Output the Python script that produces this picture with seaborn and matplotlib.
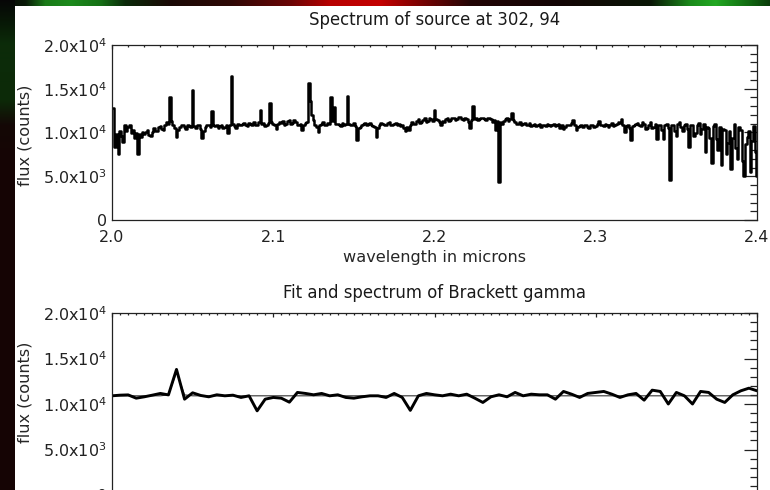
import numpy as np
import pandas as pd
import matplotlib
matplotlib.use("Agg")
import matplotlib.pyplot as plt
import seaborn as sns
from matplotlib.ticker import MultipleLocator, FuncFormatter
from matplotlib.patches import Rectangle

# ---------------- data ----------------
# full K-band spectrum, 0.001 micron bins from 2.000 to 2.400
flux = [
    12800, 12800, 8300, 9800, 7600, 10200, 9600, 8900, 10900, 10200,
    10600, 10900, 9900, 10300, 9400, 9900, 7600, 9800, 9500, 10100,
    9800, 10100, 10300, 9700, 9600, 10000, 10500, 10200, 10200, 10600,
    10700, 10400, 10300, 10800, 11200, 11000, 14100, 11300, 10800, 10500,
    9500, 10300, 10600, 10900, 10900, 10600, 10400, 10800, 10700, 10600,
    14800, 10700, 10500, 10900, 10800, 10400, 9400, 10200, 10600, 10800,
    10900, 10600, 12500, 10800, 10700, 10900, 10500, 10700, 10900, 10500,
    10600, 10900, 9900, 10800, 16400, 11000, 10700, 10500, 11000, 10800,
    10800, 11000, 11100, 10800, 10700, 11100, 11000, 10900, 11200, 10800,
    10900, 11200, 12600, 11000, 11100, 10700, 10800, 11100, 13400, 11200,
    11000, 10800, 10400, 11000, 11200, 11100, 11300, 10900, 11000, 11300,
    11400, 11000, 11100, 11400, 11200, 10900, 10900, 11000, 10300, 10900,
    11100, 11200, 15600, 13600, 12000, 11400, 10900, 10600, 10000, 10800,
    11000, 11200, 10800, 10900, 11100, 11000, 14000, 11300, 12900, 11000,
    11000, 10800, 10700, 11100, 10900, 11000, 14200, 11000, 10800, 10900,
    11100, 10700, 9100, 10500, 10600, 10900, 11000, 11100, 10800, 11000,
    11100, 10900, 10700, 10600, 9500, 10500, 10800, 11100, 11000, 10800,
    10900, 11100, 11200, 10900, 10800, 11000, 11100, 10800, 11000, 10700,
    10800, 10500, 10200, 10600, 10300, 10800, 11200, 11000, 11000, 11300,
    11500, 11100, 11200, 11400, 11600, 11200, 11300, 11700, 11500, 11300,
    12600, 11500, 11400, 11200, 10800, 11300, 11200, 11500, 11600, 11300,
    11400, 11600, 11700, 11400, 11500, 11800, 11800, 11500, 11400, 11700,
    11500, 11200, 10500, 11400, 13000, 11500, 11600, 11400, 11500, 11700,
    11700, 11500, 11400, 11700, 11600, 11500, 11200, 11400, 10300, 11300,
    4400, 11200, 11000, 11300, 11500, 11600, 11300, 11500, 12200, 11400,
    11200, 11000, 11000, 11200, 10800, 11000, 11100, 10800, 10900, 11100,
    10700, 10900, 11000, 10700, 10800, 11000, 10600, 10800, 10900, 10700,
    11000, 10800, 10700, 10900, 11000, 10700, 10800, 11000, 10500, 10800,
    10400, 10600, 10800, 10900, 10900, 11100, 11400, 10800, 10300, 10600,
    10700, 10900, 10600, 10800, 10800, 10600, 10500, 10800, 10900, 10600,
    10700, 11000, 11300, 10900, 10800, 10700, 11000, 10800, 10600, 10900,
    11100, 10700, 10800, 11000, 11200, 11100, 11500, 10800, 10100, 10700,
    10800, 10500, 9100, 10700, 10900, 11000, 11100, 10800, 10700, 11200,
    11000, 10400, 10500, 10900, 11200, 10500, 10600, 11000, 9300, 10800,
    10800, 10300, 9200, 10900, 11000, 10500, 4600, 10800, 10900, 10200,
    9600, 11000, 11200, 10600, 10200, 10900, 11000, 10400, 8300, 10800,
    10900, 9600, 9900, 10800, 11100, 9800, 10400, 11000, 7800, 10600,
    10500, 9400, 6500, 10700, 11000, 9200, 8000, 10600, 6300, 10400,
    10300, 7600, 8800, 10200, 5800, 9400, 11000, 8200, 7000, 10600,
    10300, 6800, 5000, 8700, 9500, 10200, 5500, 9000, 10700, 7800,
    5000,
]
wavelength = np.linspace(2.0, 2.4, len(flux))

# Brackett gamma region: spectrum and fit
br_flux = [
    10900, 10970, 11000, 10640, 10790, 10970, 11160, 11000, 13800, 10530,
    11230, 10940, 10790, 11010, 10900, 10970, 10720, 10900, 9250, 10530,
    10720, 10640, 10200, 11270, 11160, 11010, 11160, 10900, 11010, 10720,
    10640, 10790, 10900, 10900, 10720, 11160, 10720, 9300, 10900, 11160,
    11010, 10900, 11080, 10900, 11080, 10640, 10170, 10790, 11010, 10790,
    11270, 10900, 11080, 11010, 11010, 10530, 11380, 11080, 10720, 11160,
    11270, 11380, 11080, 10720, 11010, 11160, 10420, 11520, 11380, 10000,
    11270, 10900, 10000, 11380, 11270, 10530, 10170, 11010, 11450, 11740, 11450,
]
br_fit = [10900] * 7 + [11000, 13500, 11000] + [10900] * 71
br_wl = np.linspace(2.15, 2.19, len(br_flux))

top_title = "Spectrum of source at 302, 94"
bot_title = "Fit and spectrum of Brackett gamma"
xlab = "wavelength in microns"
ylab = "flux (counts)"
ytick_vals = [0, 5000, 10000, 15000, 20000]
ytick_text = ["0", r"5.0x10$^{3}$", r"1.0x10$^{4}$", r"1.5x10$^{4}$", r"2.0x10$^{4}$"]

df_top = pd.DataFrame({"wl": wavelength, "flux": flux})
df_bot = pd.DataFrame({"wl": br_wl, "flux": br_flux, "fit": br_fit})

# ---------------- style ----------------
sns.set_theme(style="white")
plt.rcParams["font.family"] = ["DejaVu Sans"]
plt.rcParams["axes.linewidth"] = 0.9
plt.rcParams["axes.edgecolor"] = "#222222"
plt.rcParams["text.color"] = "#1a1a1a"
plt.rcParams["xtick.color"] = "#222222"
plt.rcParams["ytick.color"] = "#222222"
FS_TICK = 11.5
FS_LAB = 11.6
FS_TITLE = 11.9

W, H = 770, 490
fig = plt.figure(figsize=(W / 100, H / 100), dpi=100)
fig.patch.set_facecolor("#0e0404")

# decorative background (screenshot surroundings)
bg = fig.add_axes([0, 0, 1, 1], zorder=-10)
xs = np.arange(W)
stops_x = [0, 25, 45, 70, 100, 125, 170, 230, 290, 330, 380, 420, 470, 560, 650, 690, 715, 745, 770]
stops_c = ["#060606", "#0a1a08", "#1a7a18", "#1c8a1c", "#157015", "#0b2a0a", "#1a0805", "#2e0806",
           "#6a0505", "#b80000", "#c40000", "#7a0202", "#220505", "#120404", "#0a1606",
           "#1a8a1a", "#22a822", "#127012", "#0a3a0a"]
rgb = np.array([matplotlib.colors.to_rgb(c) for c in stops_c])
row = np.stack([np.interp(xs, stops_x, rgb[:, k]) for k in range(3)], axis=-1)
img = np.repeat(row[None, :, :], 8, axis=0)
ys = np.arange(H)
stops_y = [0, 25, 45, 100, 125, 160, 490]
stops_yc = ["#060606", "#081a06", "#0c2c0a", "#0c2a08", "#140806", "#160505", "#150404"]
rgb_y = np.array([matplotlib.colors.to_rgb(c) for c in stops_yc])
col = np.stack([np.interp(ys, stops_y, rgb_y[:, k]) for k in range(3)], axis=-1)
bg.imshow(img, extent=[0, W, 8, 0], aspect="auto", interpolation="bilinear")
bg.imshow(col[:, None, :].repeat(15, axis=1), extent=[0, 15, H, 0], aspect="auto",
          interpolation="bilinear")
bg.set_xlim(0, W)
bg.set_ylim(H, 0)
bg.axis("off")
fig.add_artist(Rectangle((15 / W, 0), 1, (H - 6) / H, transform=fig.transFigure,
                         facecolor="white", edgecolor="none", zorder=-5))

left = 112 / W
width = 645 / W
ax1 = fig.add_axes([left, (H - 220) / H, width, 175 / H])
ax2 = fig.add_axes([left, (H - 495) / H, width, 182 / H])

sns.lineplot(data=df_top, x="wl", y="flux", ax=ax1, color="black", linewidth=1.8,
             drawstyle="steps-mid", estimator=None, sort=False)
sns.lineplot(data=df_bot, x="wl", y="fit", ax=ax2, color="#333333", linewidth=0.8,
             estimator=None, sort=False)
sns.lineplot(data=df_bot, x="wl", y="flux", ax=ax2, color="black", linewidth=2.1,
             estimator=None, sort=False)


def yfmt(v, pos):
    for tv, tt in zip(ytick_vals, ytick_text):
        if abs(v - tv) < 1:
            return tt
    return ""


for ax, xlo, xhi, xmaj, xmin_ in [(ax1, 2.0, 2.4, 0.1, 0.01),
                                  (ax2, 2.15, 2.19, 0.01, 0.0005)]:
    ax.set_facecolor("white")
    ax.set_xlim(xlo, xhi)
    ax.set_ylim(0, 20000)
    ax.xaxis.set_major_locator(MultipleLocator(xmaj))
    ax.xaxis.set_minor_locator(MultipleLocator(xmin_))
    ax.xaxis.set_major_formatter(FuncFormatter(lambda v, p: f"{v:.1f}"))
    ax.yaxis.set_major_locator(MultipleLocator(5000))
    ax.yaxis.set_minor_locator(MultipleLocator(1000))
    ax.yaxis.set_major_formatter(FuncFormatter(yfmt))
    ax.tick_params(which="both", direction="in", top=True, right=True,
                   labelsize=FS_TICK, width=0.9)
    ax.tick_params(axis="y", which="major", length=9.4, pad=3.6)
    ax.tick_params(axis="y", which="minor", length=4.7)
    ax.tick_params(axis="x", which="major", length=3.0, pad=7)
    ax.tick_params(axis="x", which="minor", length=1.6)
    for s in ax.spines.values():
        s.set_visible(True)
    ax.set_ylabel(ylab, fontsize=FS_LAB)
    ax.yaxis.label.set(ha="center", va="center", rotation_mode="anchor")

# bottom panel's x labels fall below the visible frame
ax2.tick_params(axis="x", which="both", labelbottom=False)
ax2.set_xlabel("")

ax1.set_xlabel(xlab, fontsize=FS_LAB)
ax1.xaxis.label.set(va="center")
ax1.xaxis.set_label_coords(0.5, (220 - 257) / 175)
ax1.yaxis.set_label_coords((25 - 112) / 645, (220 - 135) / 175)
ax2.yaxis.set_label_coords((25 - 112) / 645, (495 - 392) / 182)

ax1.text(0.5, (220 - 20) / 175, top_title, transform=ax1.transAxes, ha="center",
         va="center", fontsize=FS_TITLE)
ax2.text(0.5, (495 - 293) / 182, bot_title, transform=ax2.transAxes, ha="center",
         va="center", fontsize=FS_TITLE)

fig.savefig("out.png", dpi=100, facecolor=fig.get_facecolor())
